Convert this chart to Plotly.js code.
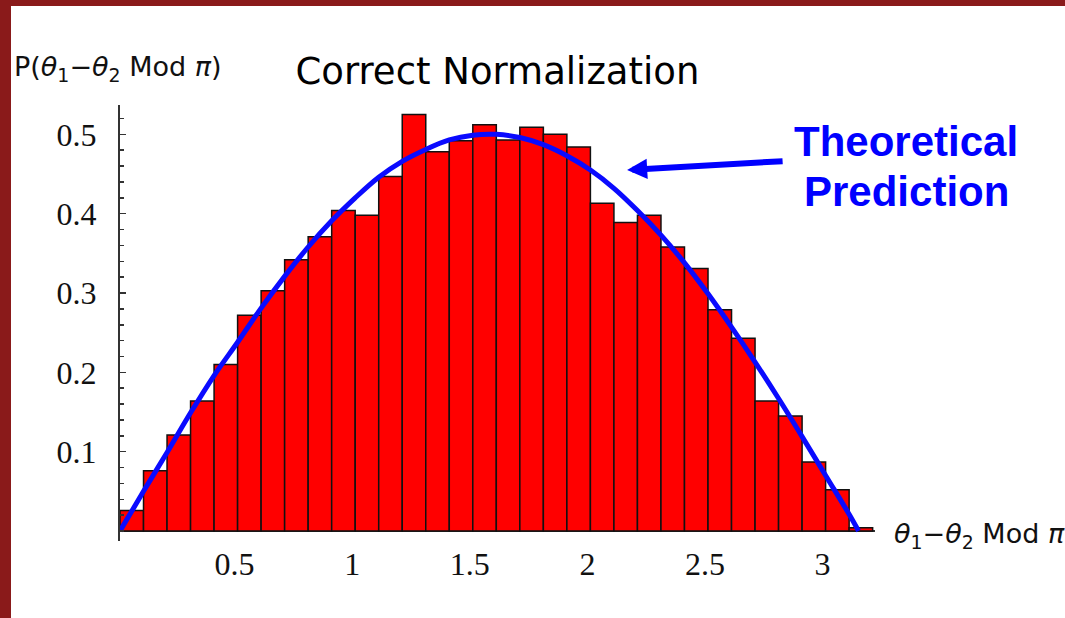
<!DOCTYPE html>
<html>
<head>
<meta charset="utf-8">
<script src="https://cdn.plot.ly/plotly-3.0.1.min.js"></script>
<style>
  html, body { margin: 0; padding: 0; width: 1065px; height: 618px; overflow: hidden; background: #8a1a1a; }
  #chart { position: absolute; left: 11px; top: 6px; width: 1054px; height: 612px; background: #ffffff; }
</style>
</head>
<body>
<div id="chart"></div>
<script>
// Histogram bins (bin width 0.1) and bar heights
const binCenters = [0.05, 0.15, 0.25, 0.35, 0.45, 0.55, 0.65, 0.75, 0.85, 0.95,
                    1.05, 1.15, 1.25, 1.35, 1.45, 1.55, 1.65, 1.75, 1.85, 1.95,
                    2.05, 2.15, 2.25, 2.35, 2.45, 2.55, 2.65, 2.75, 2.85, 2.95,
                    3.05, 3.15];
const binHeights = [0.026, 0.076, 0.121, 0.164, 0.210, 0.272, 0.303, 0.342, 0.371, 0.404,
                    0.398, 0.447, 0.525, 0.478, 0.492, 0.512, 0.493, 0.509, 0.500, 0.484,
                    0.413, 0.389, 0.398, 0.358, 0.331, 0.279, 0.243, 0.164, 0.145, 0.087,
                    0.052, 0.004];

// Theoretical prediction curve
const curveX = [0, 0.1, 0.2, 0.3, 0.4, 0.5, 0.6, 0.7, 0.8, 0.9, 1.0, 1.1, 1.2, 1.3, 1.4, 1.5,
                1.6, 1.7, 1.8, 1.9, 2.0, 2.1, 2.2, 2.3, 2.4, 2.5, 2.6, 2.7, 2.8, 2.9, 3.0, 3.1, 3.14];
const curveY = [0, 0.050, 0.099, 0.149, 0.196, 0.238, 0.281, 0.321, 0.358, 0.391, 0.420, 0.446,
                0.466, 0.481, 0.493, 0.499, 0.500, 0.496, 0.487, 0.473, 0.455, 0.432, 0.404,
                0.373, 0.338, 0.299, 0.257, 0.213, 0.167, 0.119, 0.070, 0.021, 0];

const xTickVals = [0.5, 1, 1.5, 2, 2.5, 3];
const xTickText = ['0.5', '1', '1.5', '2', '2.5', '3'];
const yTickVals = [0.1, 0.2, 0.3, 0.4, 0.5];
const yTickText = ['0.1', '0.2', '0.3', '0.4', '0.5'];

const titleText = 'Correct Normalization';
const yLabelText = 'P(<i>θ</i><sub>1</sub>−<i>θ</i><sub>2</sub> Mod <i>π</i>)';
const xLabelText = '<i>θ</i><sub>1</sub>−<i>θ</i><sub>2</sub> Mod <i>π</i>';
const noteLine1 = 'Theoretical';
const noteLine2 = 'Prediction';

const axisColor = '#333333';
const labelFont = {family: 'DejaVu Sans', size: 27, color: '#111111'};
const tickFont = {family: 'Liberation Serif', size: 32, color: '#111111'};
const noteFont = {family: 'Liberation Sans', size: 42, color: '#0000ff'};

const traces = [
  {
    type: 'bar',
    x: binCenters,
    y: binHeights,
    width: 0.1,
    marker: {color: '#ff0000', line: {color: '#111111', width: 1.5}},
    hoverinfo: 'skip',
    showlegend: false
  },
  {
    type: 'scatter',
    mode: 'lines',
    x: curveX,
    y: curveY,
    line: {color: '#0a0aff', width: 5, shape: 'spline'},
    hoverinfo: 'skip',
    showlegend: false,
    cliponaxis: false
  }
];

const layout = {
  width: 1054,
  height: 612,
  margin: {l: 109, r: 190, t: 99, b: 77, pad: 0},
  paper_bgcolor: '#ffffff',
  plot_bgcolor: '#ffffff',
  bargap: 0,
  showlegend: false,
  title: {
    text: titleText,
    font: {family: 'DejaVu Sans', size: 37, color: '#000000'},
    xref: 'container', x: 0.4615, xanchor: 'center',
    yref: 'container', y: 0.893, yanchor: 'middle'
  },
  xaxis: {
    range: [0, 3.21],
    showgrid: false,
    zeroline: false,
    showline: false,
    ticks: '',
    tickmode: 'array',
    tickvals: xTickVals,
    ticktext: xTickText,
    tickfont: tickFont,
    ticklabelstandoff: 1,
    ticklabelshift: -3,
    fixedrange: true
  },
  yaxis: {
    range: [-0.0126, 0.537],
    showgrid: false,
    zeroline: true,
    zerolinecolor: axisColor,
    zerolinewidth: 1.5,
    showline: true,
    linecolor: axisColor,
    linewidth: 2,
    ticks: 'inside',
    ticklen: 6,
    tickwidth: 1.5,
    tickcolor: axisColor,
    tickmode: 'array',
    tickvals: yTickVals,
    ticktext: yTickText,
    tickfont: tickFont,
    ticklabelstandoff: 15,
    minor: {tickmode: 'linear', tick0: 0, dtick: 0.02, ticks: 'inside', ticklen: 4, tickwidth: 1.5, tickcolor: axisColor},
    fixedrange: true
  },
  annotations: [
    {
      xref: 'x', yref: 'y', x: 2.156, y: 0.455,
      axref: 'pixel', ayref: 'pixel', ax: 157, ay: -9,
      text: '', showarrow: true, arrowhead: 2, arrowsize: 0.67, arrowwidth: 6,
      arrowcolor: '#0000ff', standoff: 0, startstandoff: 0
    },
    {
      xref: 'paper', yref: 'paper', x: 1.041, y: 0.916, xanchor: 'center', yanchor: 'middle',
      text: '<b>' + noteLine1 + '</b>', showarrow: false, font: noteFont
    },
    {
      xref: 'paper', yref: 'paper', x: 1.042, y: 0.801, xanchor: 'center', yanchor: 'middle',
      text: '<b>' + noteLine2 + '</b>', showarrow: false, font: noteFont
    },
    {
      xref: 'paper', yref: 'paper', x: -0.1430, y: 1.083, xanchor: 'left', yanchor: 'middle',
      text: yLabelText, showarrow: false, font: labelFont
    },
    {
      xref: 'paper', yref: 'paper', x: 1.0225, y: 0.012, xanchor: 'left', yanchor: 'middle',
      text: xLabelText, showarrow: false, font: labelFont
    }
  ]
};

Plotly.newPlot('chart', traces, layout, {staticPlot: true, displayModeBar: false});
</script>
</body>
</html>
